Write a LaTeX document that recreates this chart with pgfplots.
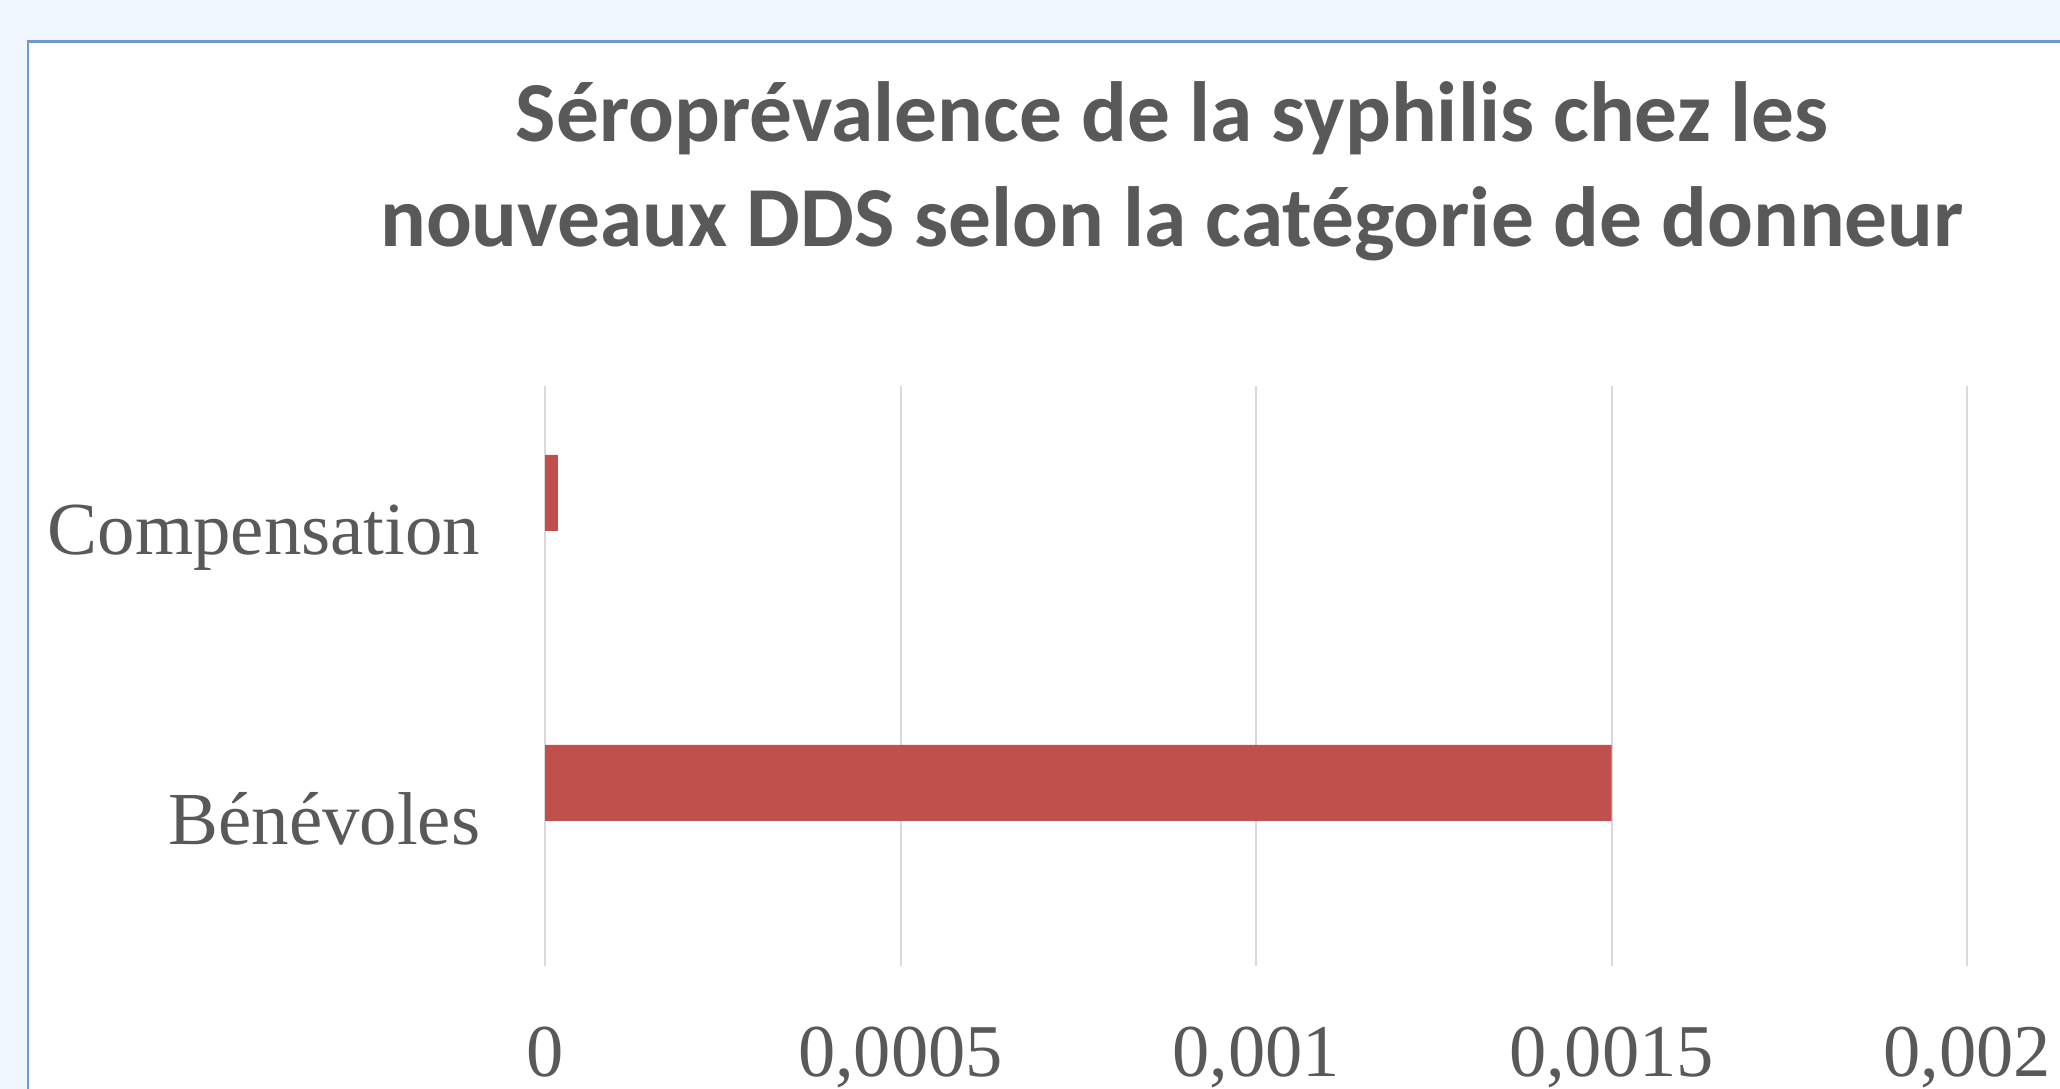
\documentclass[border=0pt]{standalone}
\usepackage{fontspec}
\setmainfont{Liberation Serif}
\newfontfamily\titlefont{Carlito}
\usepackage{pgfplots}
\pgfplotsset{compat=1.18}
\definecolor{bgblue}{HTML}{EFF6FE}
\definecolor{frameblue}{HTML}{6E9AD0}
\definecolor{txtgray}{HTML}{595959}
\definecolor{gridgray}{HTML}{D9D9D9}
\definecolor{barred}{HTML}{C0504D}

\begin{document}
\begin{tikzpicture}
  \useasboundingbox (0,0) rectangle (20.6,10.89);
  \clip (0,0) rectangle (20.6,10.89);
  \fill[bgblue] (0,0) rectangle (20.6,10.89);
  \draw[frameblue, line width=0.03cm, fill=white] (0.28,-1) rectangle (21,10.47);

  \node[anchor=base, text=txtgray, font=\titlefont\bfseries\fontsize{24.3}{29}\selectfont]
    at (11.72,9.47) {Séroprévalence de la syphilis chez les};
  \node[anchor=base, text=txtgray, font=\titlefont\bfseries\fontsize{24.3}{29}\selectfont]
    at (11.72,8.42) {nouveaux DDS selon la catégorie de donneur};

  \begin{axis}[
    at={(5.45cm,1.23cm)}, anchor=south west,
    scale only axis, width=14.22cm, height=5.80cm,
    xbar, bar width=0.76cm, bar shift=0.38cm,
    xmin=0, xmax=0.002,
    ymin=-0.5, ymax=1.5,
    xtick={0,0.0005,0.001,0.0015,0.002},
    xticklabels={0,{0,0005},{0,001},{0,0015},{0,002}},
    scaled x ticks=false,
    ytick={0,1},
    yticklabels={Bénévoles,Compensation},
    xmajorgrids, major grid style={gridgray, line width=0.02cm},
    axis line style={draw=none},
    major tick length=0pt,
    tick label style={text=txtgray, inner sep=0pt},
    xticklabel style={font=\fontsize{21.2}{25}\selectfont, anchor=base, yshift=-1.11cm},
    yticklabel style={font=\fontsize{21.3}{25}\selectfont, anchor=base east, xshift=-0.64cm, yshift=-0.24cm},
  ]
  \addplot[fill=barred, draw=none] coordinates {(0.0015,0) (0.000018,1)};
  \end{axis}
\end{tikzpicture}
\end{document}
